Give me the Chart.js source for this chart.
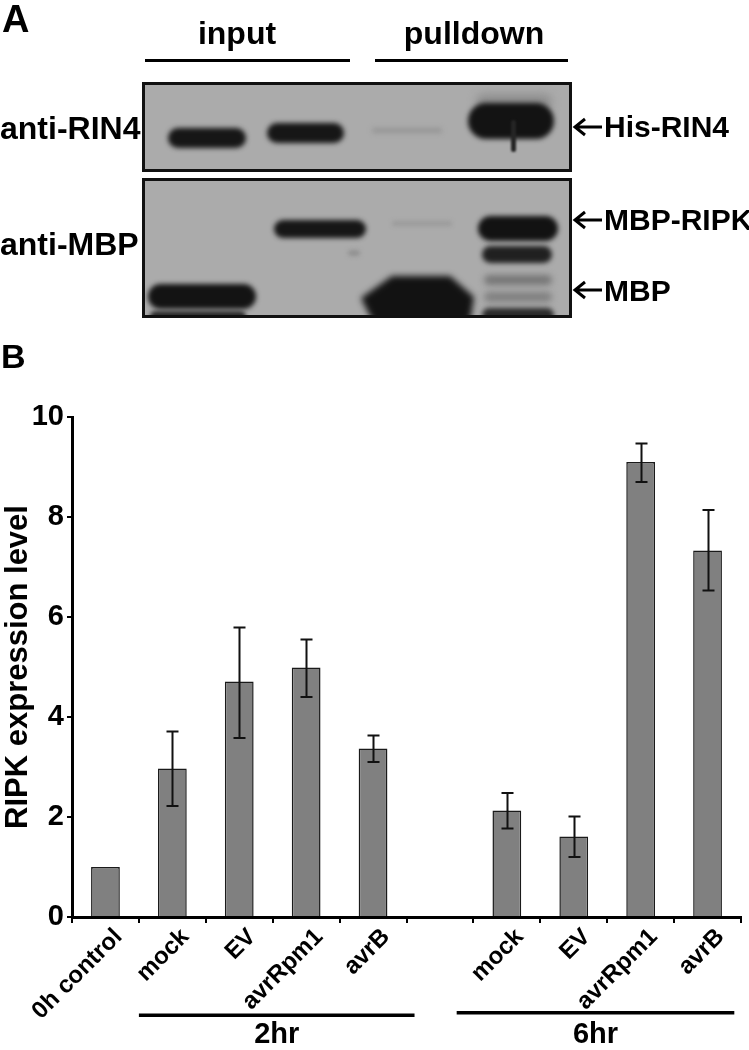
<!DOCTYPE html>
<html>
<head>
<meta charset="utf-8">
<script src="https://cdn.jsdelivr.net/npm/chart.js@4.4.1/dist/chart.umd.min.js"></script>
<style>
  html, body { margin: 0; padding: 0; background: #fff; }
  body { width: 749px; height: 1050px; position: relative; overflow: hidden; }
  .t { position: absolute; font-family: "Liberation Sans", Arial, sans-serif; font-weight: bold; line-height: 1; color: #000; white-space: nowrap; z-index: 3; }
  .c { text-align: center; }
  #blot { position: absolute; left: 0; top: 0; }
  #wrap { position: absolute; left: 0; top: 330px; width: 749px; height: 720px; }
</style>
</head>
<body>
<canvas id="blot" width="749" height="330"></canvas>
<div class="t" style="left:2px;top:0px;font-size:38px;">A</div>
<div class="t c" style="left:137px;top:17px;width:200px;font-size:32px;">input</div>
<div class="t c" style="left:374px;top:17px;width:200px;font-size:32px;">pulldown</div>
<div class="t" style="left:0px;top:112px;font-size:32px;">anti-RIN4</div>
<div class="t" style="left:0px;top:228px;font-size:32px;">anti-MBP</div>
<div class="t" style="left:604px;top:112px;font-size:30px;">His-RIN4</div>
<div class="t" style="left:604px;top:205px;font-size:30px;">MBP-RIPK</div>
<div class="t" style="left:604px;top:276px;font-size:30px;">MBP</div>
<div class="t" style="left:1px;top:339px;font-size:34px;">B</div>
<div id="wrap"><canvas id="c" width="749" height="720"></canvas></div>
<script>
// ---------------- data (panel B) ----------------
const categories = ['0h control', 'mock', 'EV', 'avrRpm1', 'avrB', '', 'mock', 'EV', 'avrRpm1', 'avrB'];
const expression = [1.0, 2.97, 4.71, 4.99, 3.37, null, 2.13, 1.61, 9.10, 7.33];
const errUpper   = [null, 3.71, 5.79, 5.55, 3.63, null, 2.48, 2.01, 9.47, 8.14];
const errLower   = [null, 2.22, 3.58, 4.40, 3.10, null, 1.77, 1.20, 8.70, 6.53];
const yTicks = [0, 2, 4, 6, 8, 10];
const groupLabels = ['2hr', '6hr'];
const groupFirst = [1, 6];
const groupLast = [4, 9];

const FONT = '"Liberation Sans", Arial, sans-serif';

// ---------------- panel A : western blot illustration ----------------
(function drawBlot() {
  const cv = document.getElementById('blot');
  const ctx = cv.getContext('2d');
  ctx.fillStyle = '#000';
  ctx.fillRect(145, 59, 205, 3);
  ctx.fillRect(375, 59, 193, 3);

  function box(x0, y0, x1, y1, bands) {
    ctx.save();
    ctx.beginPath(); ctx.rect(x0, y0, x1 - x0, y1 - y0); ctx.clip();
    ctx.fillStyle = '#ababab';
    ctx.fillRect(x0, y0, x1 - x0, y1 - y0);
    bands();
    ctx.restore();
    ctx.lineWidth = 3; ctx.strokeStyle = '#111';
    ctx.strokeRect(x0 + 1.5, y0 + 1.5, x1 - x0 - 3, y1 - y0 - 3);
  }
  function band(x0, x1, y0, y1, color, blur) {
    ctx.save();
    ctx.filter = 'blur(' + blur + 'px)';
    ctx.fillStyle = color;
    ctx.beginPath();
    const r = Math.min((y1 - y0) / 2, (x1 - x0) / 2);
    ctx.roundRect(x0, y0, x1 - x0, y1 - y0, r);
    ctx.fill();
    ctx.restore();
  }
  function poly(pts, color, blur) {
    ctx.save();
    ctx.filter = 'blur(' + blur + 'px)';
    ctx.fillStyle = color;
    ctx.beginPath();
    ctx.moveTo(pts[0][0], pts[0][1]);
    for (let i = 1; i < pts.length; i++) ctx.lineTo(pts[i][0], pts[i][1]);
    ctx.closePath(); ctx.fill();
    ctx.restore();
  }
  // upper blot (anti-RIN4)
  box(142, 82, 572, 172, function () {
    band(168, 246, 128, 148, '#161616', 2.5);
    band(267, 344, 123, 143, '#161616', 2.5);
    band(372, 442, 128, 133, '#959595', 2.5);
    band(476, 552, 94, 110, '#8e8e8e', 4);
    band(468, 554, 103, 139, '#131313', 2.5);
    band(511, 516, 120, 152, '#252525', 1);
  });
  // lower blot (anti-MBP)
  box(142, 178, 572, 318, function () {
    band(274, 366, 220, 238, '#161616', 2.5);
    band(348, 360, 250, 256, '#909090', 2);
    band(392, 452, 221, 226, '#9a9a9a', 2);
    band(148, 256, 284, 309, '#131313', 2.5);
    band(150, 246, 311, 322, '#2a2a2a', 2);
    poly([[392, 276], [450, 276], [474, 297], [470, 322], [373, 322], [361, 298]], '#121212', 3);
    band(478, 558, 216, 241, '#121212', 2.5);
    band(482, 552, 246, 263, '#202020', 2.5);
    band(484, 552, 275, 285, '#767676', 3);
    band(484, 552, 292, 302, '#808080', 3);
    band(482, 554, 308, 322, '#2a2a2a', 2.5);
  });
  // arrows
  ctx.strokeStyle = '#000'; ctx.lineWidth = 3; ctx.lineCap = 'butt';
  [127, 220, 290].forEach(function (y) {
    ctx.beginPath();
    ctx.moveTo(575, y); ctx.lineTo(602, y);
    ctx.moveTo(585, y - 8); ctx.lineTo(575, y); ctx.lineTo(585, y + 8);
    ctx.stroke();
  });
})();

// ---------------- panel B : bar chart ----------------
const errorBarPlugin = {
  id: 'errorBars',
  afterDatasetsDraw(chart, args, opts) {
    const ctx = chart.ctx;
    const meta = chart.getDatasetMeta(0);
    const ys = chart.scales.y;
    ctx.save();
    ctx.strokeStyle = opts.color; ctx.lineWidth = opts.width;
    meta.data.forEach(function (bar, i) {
      if (errUpper[i] == null) return;
      const x = Math.round(bar.x) + 0.5;
      const yt = ys.getPixelForValue(errUpper[i]);
      const yb = ys.getPixelForValue(errLower[i]);
      ctx.beginPath();
      ctx.moveTo(x, yt); ctx.lineTo(x, yb);
      ctx.moveTo(x - opts.cap, yt); ctx.lineTo(x + opts.cap, yt);
      ctx.moveTo(x - opts.cap, yb); ctx.lineTo(x + opts.cap, yb);
      ctx.stroke();
    });
    ctx.restore();
  }
};

const groupPlugin = {
  id: 'groups',
  afterDraw(chart, args, opts) {
    const ctx = chart.ctx;
    const xs = chart.scales.x;
    const w = xs.width / categories.length;
    ctx.save();
    ctx.fillStyle = '#000';
    ctx.font = 'bold ' + opts.size + 'px ' + FONT;
    ctx.textAlign = 'center'; ctx.textBaseline = 'alphabetic';
    groupLabels.forEach(function (lab, g) {
      const x0 = xs.getPixelForValue(groupFirst[g]) + opts.startPad[g] * w;
      const x1 = xs.getPixelForValue(groupLast[g]) + opts.endPad[g] * w;
      ctx.fillRect(x0, opts.lineY[g] - 1.5, x1 - x0, 3.5);
      ctx.fillText(lab, (x0 + x1) / 2, opts.textY);
    });
    ctx.restore();
  }
};

new Chart(document.getElementById('c'), {
  type: 'bar',
  data: {
    labels: categories,
    datasets: [{
      data: expression,
      backgroundColor: '#808080',
      borderColor: '#1a1a1a',
      borderWidth: 1.5,
      borderSkipped: 'bottom',
      categoryPercentage: 1.0,
      barPercentage: 0.43
    }]
  },
  options: {
    responsive: false,
    devicePixelRatio: 1,
    animation: false,
    events: [],
    layout: { padding: { left: 0, right: 8, top: 87, bottom: 0 } },
    plugins: {
      legend: { display: false },
      tooltip: { enabled: false },
      errorBars: { color: '#111', width: 2, cap: 6 },
      groups: { size: 29, lineY: [685, 682.5], textY: 713, startPad: [-0.5, -0.75], endPad: [0.62, 0.4] }
    },
    scales: {
      x: {
        type: 'category',
        offset: true,
        grid: { offset: true, drawOnChartArea: false, drawTicks: true, tickLength: 6, color: '#000', lineWidth: 2 },
        border: { display: true, color: '#000', width: 3 },
        ticks: {
          autoSkip: false, maxRotation: 45, minRotation: 45, padding: 0, labelOffset: 13,
          color: '#000', font: { family: FONT, size: 24, weight: 'bold' }
        },
        afterFit(scale) { scale.height = 133; }
      },
      y: {
        min: 0, max: 10,
        afterBuildTicks(scale) { scale.ticks = yTicks.map(function (v) { return { value: v }; }); },
        grid: { drawOnChartArea: false, drawTicks: true, tickLength: 5, color: '#000', lineWidth: 2 },
        border: { display: true, color: '#000', width: 3 },
        ticks: {
          padding: 3, color: '#000', font: { family: FONT, size: 29, weight: 'bold' },
          callback: function (v) { return String(v); }
        },
        title: {
          display: true, text: 'RIPK expression level', color: '#000',
          font: { family: FONT, size: 31, weight: 'bold' }, padding: { top: 0, bottom: 0 }
        },
        afterFit(scale) { scale.width = 72; }
      }
    }
  },
  plugins: [errorBarPlugin, groupPlugin]
});
</script>
</body>
</html>
